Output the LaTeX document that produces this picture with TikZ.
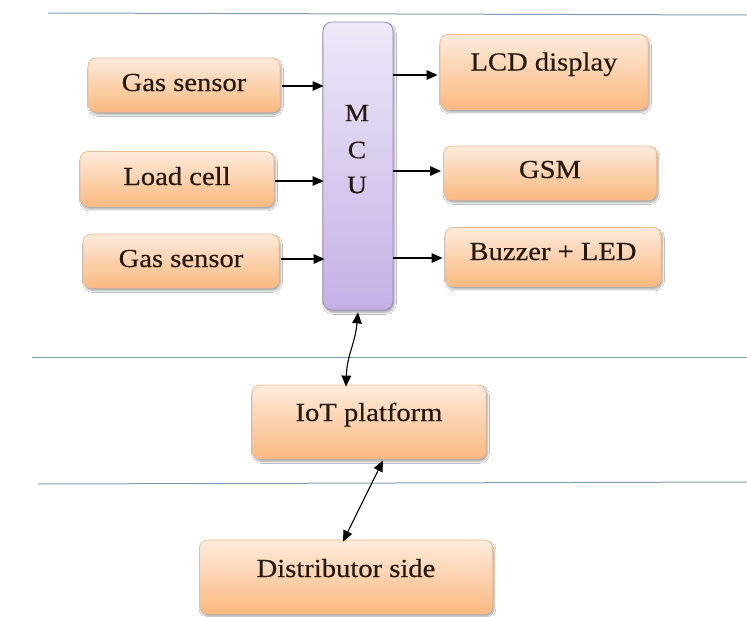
\documentclass[tikz,border=0pt]{standalone}
\usepackage{fontspec}
\setmainfont{Liberation Serif}[FakeStretch=1.1,FakeBold=0.4]
\usetikzlibrary{arrows.meta,shadows.blur}

\definecolor{boxtop}{HTML}{FEEBDC}
\definecolor{boxbot}{HTML}{FAB97F}
\definecolor{boxline}{HTML}{EDBB90}
\definecolor{mcutop}{HTML}{EEE8F8}
\definecolor{mcubot}{HTML}{C4B1E5}
\definecolor{mculine}{HTML}{9A88C2}
\definecolor{sepline}{HTML}{7F9FB8}
\definecolor{ink}{HTML}{24190F}

\tikzset{
  blockbox/.style={draw=boxline, line width=0.8pt, rounded corners=8pt,
    top color=boxtop, bottom color=boxbot, inner sep=0pt,
    text height=17pt, text depth=5pt, text=ink,
    font=\fontsize{26}{30}\selectfont,
    blur shadow={shadow xshift=1.5pt, shadow yshift=-2.5pt,
      shadow blur steps=6, shadow blur extra rounding=2pt, shadow opacity=35}},
  mcubox/.style={draw=mculine, line width=0.8pt, rounded corners=9pt,
    top color=mcutop, bottom color=mcubot, inner sep=0pt,
    blur shadow={shadow xshift=1.5pt, shadow yshift=-2.5pt,
      shadow blur steps=6, shadow blur extra rounding=2pt, shadow opacity=35}},
  letter/.style={text=ink, font=\fontsize{25}{30}\selectfont, inner sep=0pt},
  layer/.style={draw=sepline, line width=1pt},
  arr/.style={draw=black, line width=1.1pt, -{Triangle[length=11pt,width=9.5pt]}},
  darr/.style={draw=black, line width=1.1pt,
    {Triangle[length=11pt,width=9.5pt]}-{Triangle[length=11pt,width=9.5pt]}}
}

\begin{document}
\begin{tikzpicture}[x=1pt,y=-1pt]
\useasboundingbox (0,0) rectangle (747,616);
\fill[white] (0,0) rectangle (747,616);

% layer separators
\coordinate (l1a) at (48,13);   \coordinate (l1b) at (747,15);
\coordinate (l2a) at (32,357);  \coordinate (l2b) at (747,357);
\coordinate (l3a) at (38,484);  \coordinate (l3b) at (747,482);
\draw[layer] (l1a) -- (l1b);
\draw[layer] (l2a) -- (l2b);
\draw[layer] (l3a) -- (l3b);

% microcontroller
\node[mcubox, minimum width=70pt, minimum height=288pt] (mcu) at (358,166) {};
\node[letter] (mM) at (357,113) {M};
\node[letter] (mC) at (357,150) {C};
\node[letter] (mU) at (357,185) {U};

% inputs
\node[blockbox, minimum width=192pt, minimum height=54pt] (gs1) at (184,85) {Gas sensor};
\node[blockbox, minimum width=194pt, minimum height=55pt] (load) at (177,179) {Load cell};
\node[blockbox, minimum width=196pt, minimum height=54pt] (gs2) at (181,261) {Gas sensor};

% outputs
\node[blockbox, text depth=20pt, minimum width=208pt, minimum height=75pt] (lcd) at (544,72) {LCD display};
\node[blockbox, text depth=7pt, minimum width=213pt, minimum height=54pt] (gsm) at (550,173) {GSM};
\node[blockbox, text depth=11pt, minimum width=216pt, minimum height=59pt] (buzz) at (553,257) {Buzzer + LED};

% cloud and distributor
\node[blockbox, text depth=19pt, minimum width=234pt, minimum height=74pt] (iot) at (369,422) {IoT platform};
\node[blockbox, text depth=17pt, minimum width=293pt, minimum height=74pt] (dist) at (346,577) {Distributor side};

% inputs into the MCU
\draw[arr] ([xshift=2pt,yshift=-1pt]gs1.east) -- ([xshift=1pt,yshift=-1pt]gs1.east -| mcu.west);
\draw[arr] ([xshift=1pt,yshift=-2pt]load.east) -- ([xshift=1pt,yshift=-2pt]load.east -| mcu.west);
\draw[arr] ([xshift=2pt,yshift=2pt]gs2.east) -- ([xshift=2pt,yshift=2pt]gs2.east -| mcu.west);

% MCU outputs
\draw[arr] ([yshift=-3pt]lcd.west -| mcu.east) -- ([xshift=-2pt,yshift=-3pt]lcd.west);
\draw[arr] ([yshift=2pt]gsm.west -| mcu.east) -- ([xshift=-2pt,yshift=2pt]gsm.west);
\draw[arr] ([yshift=-1pt]buzz.west -| mcu.east) -- ([xshift=-2pt,yshift=-1pt]buzz.west);

% MCU <-> IoT platform
\coordinate (mcuIn) at ([yshift=-2pt]mcu.south);
\coordinate (iotTop) at ([xshift=-23pt,yshift=-2pt]iot.north);
\draw[darr] (mcuIn) .. controls +(-3,32) and +(1,-32) .. (iotTop);

% IoT platform <-> distributor
\coordinate (iotBot) at ([xshift=14pt,yshift=-1pt]iot.south);
\coordinate (distTop) at ([xshift=-3pt,yshift=-2pt]dist.north);
\draw[darr] (iotBot) -- (distTop);
\end{tikzpicture}
\end{document}
